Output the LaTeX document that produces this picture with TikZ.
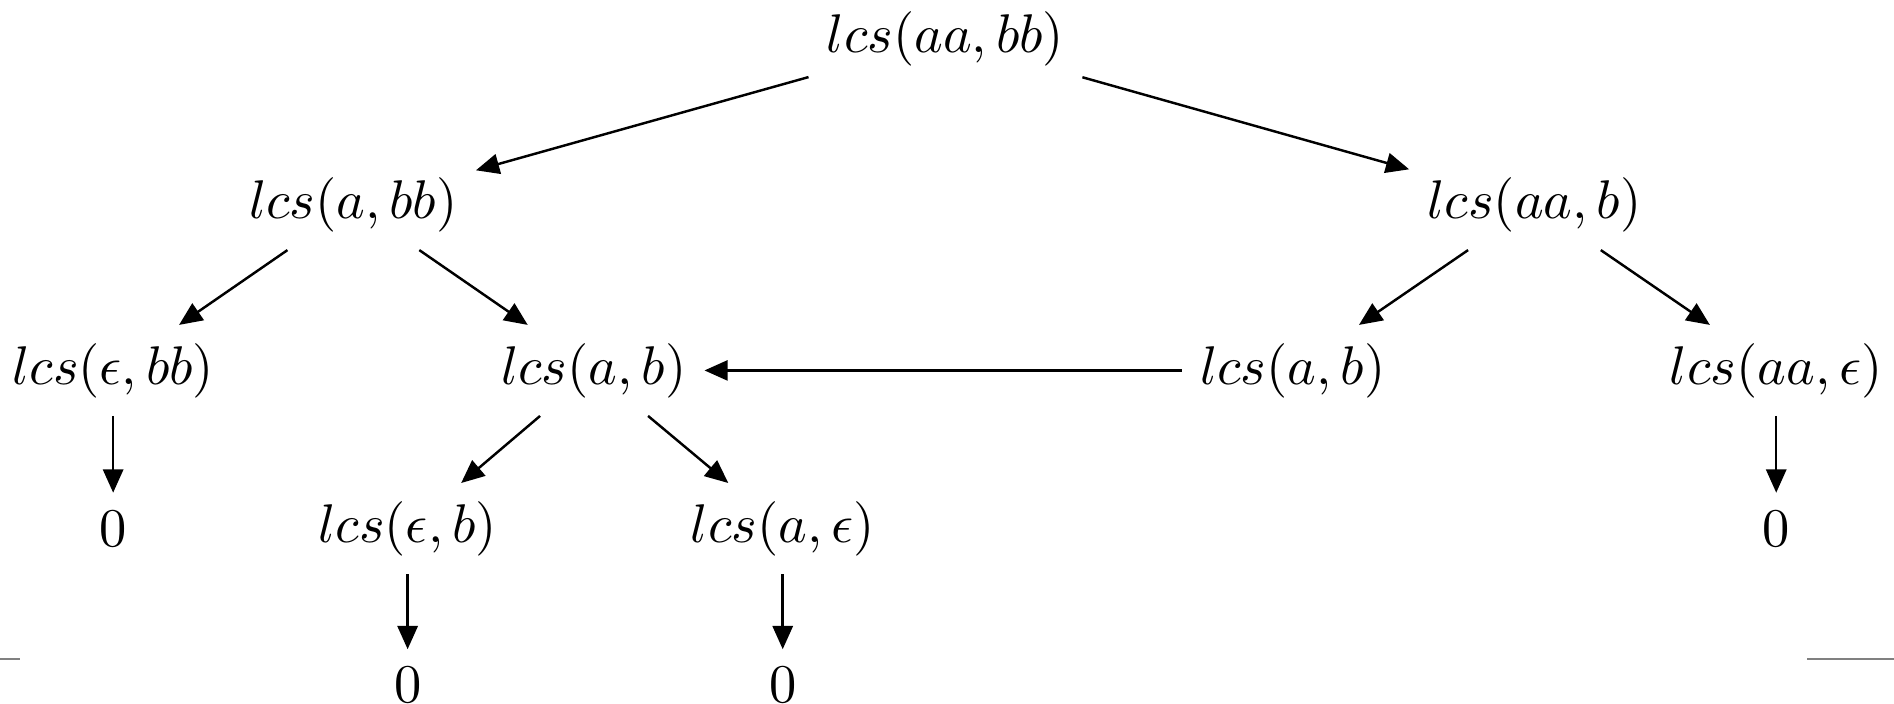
\documentclass[tikz,border=0pt]{standalone}
\usetikzlibrary{arrows.meta}

\begin{document}
\begin{tikzpicture}[line width=0.45pt, x=1mm, y=1mm,
    call/.style={inner sep=1.1mm},
    edge/.style={-{Triangle[length=1.5mm,width=1.3mm]}}]
  \useasboundingbox (0,0) rectangle (122.2,-45.4);
  % the recursion tree, level by level
  \node[call] (root) at (61.0,-2.5)  {$lcs(aa,bb)$};
  \node[call] (abb)  at (22.8,-13.2) {$lcs(a,bb)$};
  \node[call] (aab)  at (99.0,-13.2) {$lcs(aa,b)$};
  \node[call] (ebb)  at (7.3,-23.9)  {$lcs(\epsilon,bb)$};
  \node[call] (abL)  at (38.3,-23.9) {$lcs(a,b)$};
  \node[call] (abR)  at (83.4,-23.9) {$lcs(a,b)$};
  \node[call] (aae)  at (114.6,-23.9) {$lcs(aa,\epsilon)$};
  \node[call] (z1)   at (7.3,-34.1)  {$0$};
  \node[call] (eb)   at (26.3,-34.1) {$lcs(\epsilon,b)$};
  \node[call] (ae)   at (50.5,-34.1) {$lcs(a,\epsilon)$};
  \node[call] (z2)   at (114.6,-34.1) {$0$};
  \node[call] (z3)   at (26.3,-44.2) {$0$};
  \node[call] (z4)   at (50.5,-44.2) {$0$};

  \draw[edge] (root) -- (abb);
  \draw[edge] (root) -- (aab);
  \draw[edge] (abb) -- (ebb);
  \draw[edge] (abb) -- (abL);
  \draw[edge] (aab) -- (abR);
  \draw[edge] (aab) -- (aae);
  \draw[edge] (abR) -- (abL);            % repeated call, reuse the result
  \draw[edge] (ebb) -- (z1);
  \draw[edge] (abL) -- (eb);
  \draw[edge] (abL) -- (ae);
  \draw[edge] (aae) -- (z2);
  \draw[edge] (eb) -- (z3);
  \draw[edge] (ae) -- (z4);

  \draw[gray, line width=0.4pt] (0,-42.5) -- (1.3,-42.5);
  \draw[gray, line width=0.4pt] (116.6,-42.5) -- (122.2,-42.5);
\end{tikzpicture}
\end{document}
